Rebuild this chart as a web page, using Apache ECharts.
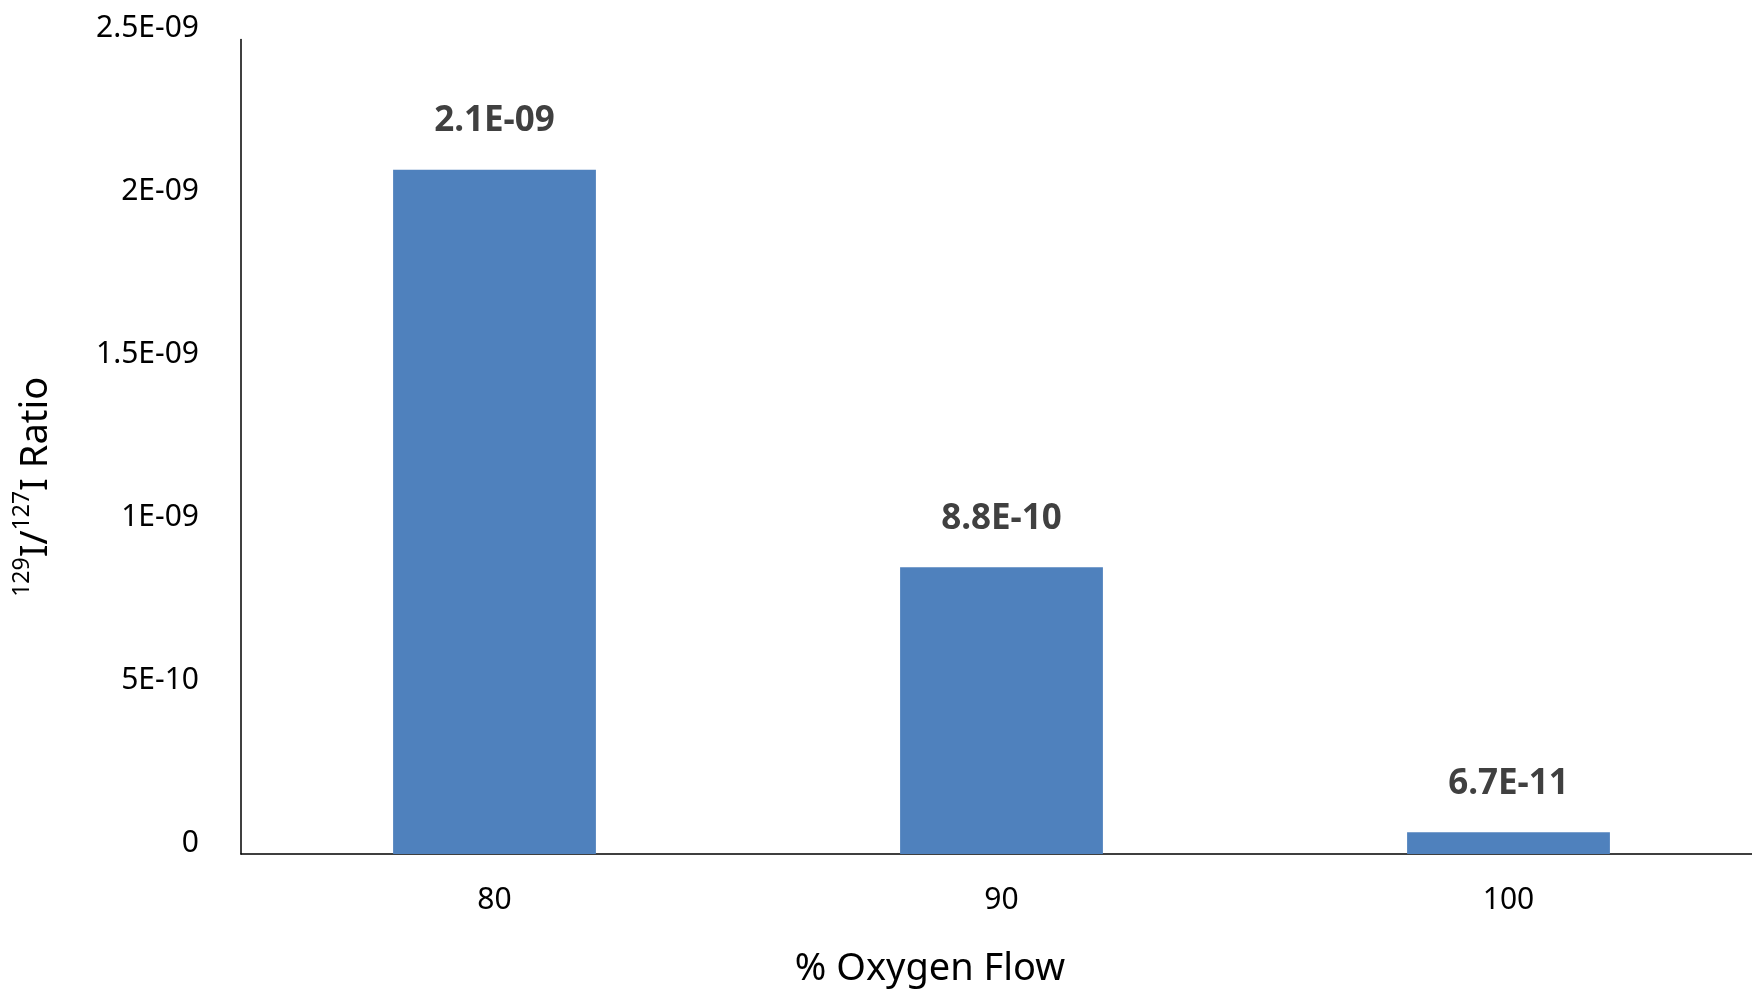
<!DOCTYPE html>
<html>
<head>
<meta charset="utf-8">
<style>
  html, body { margin: 0; padding: 0; background: #fff; }
  #chart { width: 1752px; height: 991px; }
</style>
<script src="https://cdn.jsdelivr.net/npm/echarts@6/dist/echarts.min.js"></script>
</head>
<body>
<div id="chart"></div>
<script>
// Iodine isotope ratio by oxygen flow setting
const categories = ['80', '90', '100'];
const ratioValues = [2.1e-9, 8.8e-10, 6.7e-11];
const yTicks = [0, 5e-10, 1e-9, 1.5e-9, 2e-9, 2.5e-9];

const FONT = '"Noto Sans", "Open Sans", sans-serif';

// Excel-style scientific notation: 2.1E-09, 5E-10, 0
function sci(v, digits) {
  if (Math.abs(v) < 1e-20) return '0';
  let exp = Math.floor(Math.log10(Math.abs(v)) + 1e-9);
  let mant = v / Math.pow(10, exp);
  mant = parseFloat(mant.toFixed(digits));
  if (mant >= 10) { mant = mant / 10; exp += 1; }
  const sign = exp < 0 ? '-' : '+';
  const e = String(Math.abs(exp)).padStart(2, '0');
  return mant + 'E' + sign + e;
}

const chart = echarts.init(document.getElementById('chart'));
chart.setOption({
  animation: false,
  backgroundColor: '#ffffff',
  // plot area runs past the right edge of the canvas
  grid: {
    left: 241, width: 1521, top: 39.5, bottom: 137,
    containLabel: false, outerBoundsMode: 'none'
  },
  xAxis: {
    type: 'category',
    data: categories,
    axisLine: { show: true, lineStyle: { color: '#000', width: 1.5 } },
    axisTick: { show: false },
    axisLabel: { color: '#000', fontSize: 30, fontFamily: FONT, margin: 31 },
    name: '% Oxygen Flow',
    nameLocation: 'middle',
    nameGap: 96,
    nameTextStyle: { color: '#000', fontSize: 38, fontFamily: FONT, padding: [0, 143, 0, 0] }
  },
  yAxis: {
    type: 'value',
    min: yTicks[0],
    max: yTicks[yTicks.length - 1],
    interval: yTicks[1] - yTicks[0],
    splitLine: { show: false },
    axisLine: { show: true, lineStyle: { color: '#000', width: 1.5 } },
    axisTick: { show: false },
    axisLabel: {
      color: '#000', fontSize: 30, fontFamily: FONT, margin: 42,
      verticalAlign: 'bottom', lineHeight: 22,
      formatter: v => sci(v, 2)
    },
    name: '{sup|129}{main|I/}{sup|127}{main|I Ratio}',
    nameLocation: 'middle',
    nameRotate: 90,
    nameGap: 186,
    nameTextStyle: {
      padding: [0, 80, 0, 0],
      rich: {
        main: { color: '#000', fontSize: 38, fontFamily: FONT, lineHeight: 44, verticalAlign: 'bottom' },
        sup: { color: '#000', fontSize: 23, fontFamily: FONT, lineHeight: 24, verticalAlign: 'top' }
      }
    }
  },
  series: [{
    type: 'bar',
    data: ratioValues,
    barWidth: '40%',
    itemStyle: { color: '#4F81BD' },
    label: {
      show: true,
      position: 'top',
      distance: 31,
      color: '#404040',
      fontSize: 35,
      fontWeight: 'bold',
      fontFamily: FONT,
      formatter: p => sci(p.value, 1)
    }
  }]
});
</script>
</body>
</html>
